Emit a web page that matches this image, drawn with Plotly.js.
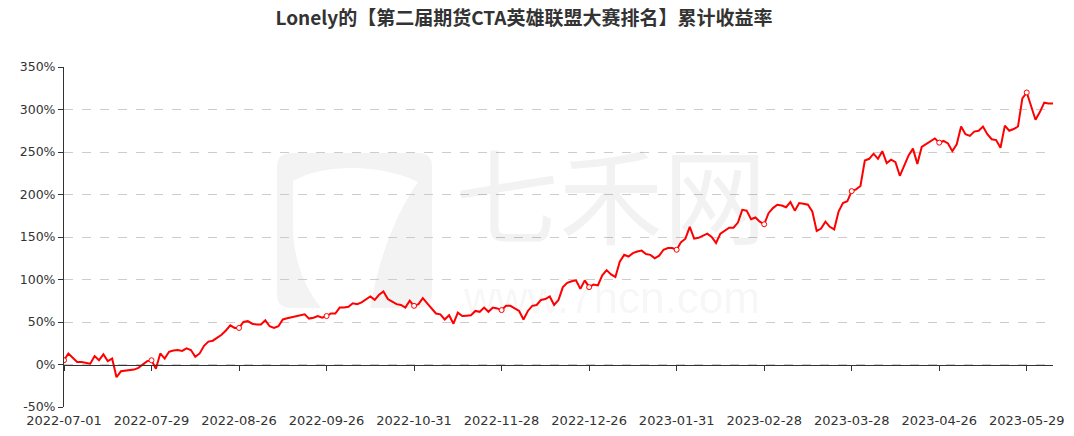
<!DOCTYPE html>
<html>
<head>
<meta charset="utf-8">
<script src="https://cdn.plot.ly/plotly-3.0.1.min.js"></script>
<style>html,body{margin:0;padding:0;background:#fff;}#chart{width:1074px;height:436px;}</style>
</head>
<body>
<div id="chart"></div>
<script>
const titleText = 'Lonely的【第二届期货CTA英雄联盟大赛排名】累计收益率';

const dates = [
'2022-07-01','2022-07-04','2022-07-05','2022-07-06','2022-07-07','2022-07-08','2022-07-11','2022-07-12','2022-07-13','2022-07-14','2022-07-15','2022-07-18','2022-07-19','2022-07-20','2022-07-21','2022-07-22','2022-07-25','2022-07-26','2022-07-27','2022-07-28','2022-07-29',
'2022-08-01','2022-08-02','2022-08-03','2022-08-04','2022-08-05','2022-08-08','2022-08-09','2022-08-10','2022-08-11','2022-08-12','2022-08-15','2022-08-16','2022-08-17','2022-08-18','2022-08-19','2022-08-22','2022-08-23','2022-08-24','2022-08-25','2022-08-26','2022-08-29','2022-08-30','2022-08-31',
'2022-09-01','2022-09-02','2022-09-05','2022-09-06','2022-09-07','2022-09-08','2022-09-09','2022-09-13','2022-09-14','2022-09-15','2022-09-16','2022-09-19','2022-09-20','2022-09-21','2022-09-22','2022-09-23','2022-09-26','2022-09-27','2022-09-28','2022-09-29','2022-09-30',
'2022-10-10','2022-10-11','2022-10-12','2022-10-13','2022-10-14','2022-10-17','2022-10-18','2022-10-19','2022-10-20','2022-10-21','2022-10-24','2022-10-25','2022-10-26','2022-10-27','2022-10-28','2022-10-31',
'2022-11-01','2022-11-02','2022-11-03','2022-11-04','2022-11-07','2022-11-08','2022-11-09','2022-11-10','2022-11-11','2022-11-14','2022-11-15','2022-11-16','2022-11-17','2022-11-18','2022-11-21','2022-11-22','2022-11-23','2022-11-24','2022-11-25','2022-11-28','2022-11-29','2022-11-30',
'2022-12-01','2022-12-02','2022-12-05','2022-12-06','2022-12-07','2022-12-08','2022-12-09','2022-12-12','2022-12-13','2022-12-14','2022-12-15','2022-12-16','2022-12-19','2022-12-20','2022-12-21','2022-12-22','2022-12-23','2022-12-26','2022-12-27','2022-12-28','2022-12-29','2022-12-30',
'2023-01-03','2023-01-04','2023-01-05','2023-01-06','2023-01-09','2023-01-10','2023-01-11','2023-01-12','2023-01-13','2023-01-16','2023-01-17','2023-01-18','2023-01-19','2023-01-20','2023-01-30','2023-01-31',
'2023-02-01','2023-02-02','2023-02-03','2023-02-06','2023-02-07','2023-02-08','2023-02-09','2023-02-10','2023-02-13','2023-02-14','2023-02-15','2023-02-16','2023-02-17','2023-02-20','2023-02-21','2023-02-22','2023-02-23','2023-02-24','2023-02-27','2023-02-28',
'2023-03-01','2023-03-02','2023-03-03','2023-03-06','2023-03-07','2023-03-08','2023-03-09','2023-03-10','2023-03-13','2023-03-14','2023-03-15','2023-03-16','2023-03-17','2023-03-20','2023-03-21','2023-03-22','2023-03-23','2023-03-24','2023-03-27','2023-03-28','2023-03-29','2023-03-30','2023-03-31',
'2023-04-03','2023-04-04','2023-04-06','2023-04-07','2023-04-10','2023-04-11','2023-04-12','2023-04-13','2023-04-14','2023-04-17','2023-04-18','2023-04-19','2023-04-20','2023-04-21','2023-04-24','2023-04-25','2023-04-26','2023-04-27','2023-04-28',
'2023-05-04','2023-05-05','2023-05-08','2023-05-09','2023-05-10','2023-05-11','2023-05-12','2023-05-15','2023-05-16','2023-05-17','2023-05-18','2023-05-19','2023-05-22','2023-05-23','2023-05-24','2023-05-25','2023-05-26','2023-05-29','2023-05-30','2023-05-31',
'2023-06-01','2023-06-02','2023-06-05','2023-06-06'
];

// cumulative return, %
const cumReturn = [
5,13,8,3,3,2,1,10,5,12,4,7,-15,-8,-7.5,-7,-6,-4,0,4,
5,-5,13,7,15,16.5,17,16,19,17,9,13,22,27,28,31,35,40,46,43,
43,50,51,48,47,47,52,45,43,45,53,54.5,55.5,57,58,59,54,55,57,55,
57,60,60,67,67,68,72,71,73,77,80,76,82,86,77,74,71,70,67,75,
69,71,78,72,66,60,59,53,58,48,61,57,57.5,58,63,62,67,62,67,66,
64,69,69,66,63,53,63,69,70,76,77,80,70,76,91,96,98,99,89,99,
91,94,93,105,111,106,103,121,129,127,131,133,134,130,129,125,128,135,137,137,
135,144,148,162,148,149,152,154,150,143,154,157,161,161,167,182,181,171,173,168,
165,178,184,188,187,185,191,181,190,189,188,180,157,160,168,162,159,180,190,192,
204,206,210,240,242,248,242,251,237,241,238,222,234,246,254,236,256,259,263,266,
261,263,260,251,259,280,271,269,274,275,280,271,265,264,255,281,275,277,280,313,
320,305,288,297,308,307,307
];

const tickStep = 20;
const tickDates = dates.filter((d, i) => i % tickStep === 0);
const tickValues = cumReturn.filter((v, i) => i % tickStep === 0);

const yTicks = [-50, 0, 50, 100, 150, 200, 250, 300, 350];
const yTickText = yTicks.map(v => v + '%');

const watermarkName = '七禾网';
const watermarkUrl = 'www.7hcn.com';

// plot area in pixels (for placing the background watermark)
const PL = 64, PR = 1053, PT = 67, PB = 407;
const px = x => ((x - PL) / (PR - PL)).toFixed(4);
const py = y => ((PB - y) / (PB - PT)).toFixed(4);
function pathOf(cmds) {
  return cmds.map(c => c[0] + ' ' + c.slice(1).reduce((a, v, i) => a + (i % 2 === 0 ? px(v) : ',' + py(v) + ' '), '')).join(' ') + ' Z';
}
const logoBox = pathOf([
  ['M', 277, 167], ['Q', 277, 153, 291, 153], ['L', 418, 153], ['Q', 432, 153, 432, 167],
  ['L', 432, 294], ['Q', 432, 308, 418, 308], ['L', 291, 308], ['Q', 277, 308, 277, 294]
]);
const logoSwoosh = pathOf([
  ['M', 293, 181], ['C', 325, 162, 385, 165, 418, 182], ['C', 395, 215, 378, 260, 370, 309],
  ['L', 322, 309], ['C', 302, 285, 293, 255, 293, 225]
]);

const traces = [
  {
    x: dates, y: cumReturn, type: 'scatter', mode: 'lines',
    line: {color: '#ff0000', width: 2},
    hoverinfo: 'x+y', showlegend: false
  },
  {
    x: tickDates, y: tickValues, type: 'scatter', mode: 'markers',
    marker: {symbol: 'circle', size: 5, color: '#ffffff', line: {color: '#ff0000', width: 1}},
    hoverinfo: 'skip', showlegend: false
  },
  {
    x: dates, y: cumReturn, xaxis: 'x2', type: 'scatter', mode: 'lines',
    line: {width: 0}, opacity: 0, hoverinfo: 'skip', showlegend: false
  }
];

const layout = {
  width: 1074, height: 436,
  margin: {l: PL, r: 1074 - PR, t: PT, b: 436 - PB},
  paper_bgcolor: '#ffffff', plot_bgcolor: '#ffffff',
  font: {family: '"Noto Sans CJK SC", "DejaVu Sans", sans-serif', color: '#333'},
  title: {
    text: '<b>' + titleText + '</b>',
    xref: 'container', x: 524 / 1074, xanchor: 'center', y: 0.957, yanchor: 'middle',
    font: {size: 19, color: '#333', family: '"Noto Sans CJK SC", sans-serif'}
  },
  xaxis: {
    type: 'category', range: [0, dates.length - 1],
    tickmode: 'array', tickvals: tickDates, ticktext: tickDates,
    showline: false, showgrid: false, zeroline: false, ticks: '',
    ticklabelstandoff: 4,
    tickfont: {size: 13, color: '#333', family: '"DejaVu Sans", sans-serif'},
    tickangle: 0, fixedrange: true
  },
  xaxis2: {
    type: 'category', overlaying: 'x', anchor: 'free', position: 0.125,
    range: [0, dates.length - 1],
    tickmode: 'array', tickvals: tickDates, showticklabels: false,
    showline: true, linecolor: '#333', linewidth: 1,
    ticks: 'outside', ticklen: 5, tickcolor: '#333', tickwidth: 1,
    showgrid: false, zeroline: false, fixedrange: true
  },
  yaxis: {
    range: [-50, 350], tickmode: 'array', tickvals: yTicks, ticktext: yTickText,
    showline: true, linecolor: '#333', linewidth: 1,
    ticks: 'outside', ticklen: 5, tickcolor: '#333',
    showgrid: true, gridcolor: '#cccccc', griddash: 'dash', gridwidth: 1,
    zeroline: false,
    tickfont: {size: 12.5, color: '#333', family: '"DejaVu Sans", sans-serif'},
    fixedrange: true
  },
  shapes: [
    {type: 'path', xref: 'paper', yref: 'paper', layer: 'below', path: logoBox,
     fillcolor: '#f3f3f3', line: {width: 0}},
    {type: 'path', xref: 'paper', yref: 'paper', layer: 'below', path: logoSwoosh,
     fillcolor: '#ffffff', line: {width: 0}}
  ],
  annotations: [
    {xref: 'paper', yref: 'paper', x: px(611), y: py(269),
     text: watermarkName, showarrow: false, xanchor: 'center', yanchor: 'bottom',
     font: {size: 104, color: 'rgba(0,0,0,0.05)', family: '"Noto Sans CJK SC", sans-serif'}},
    {xref: 'paper', yref: 'paper', x: px(611), y: py(271),
     text: watermarkUrl, showarrow: false, xanchor: 'center', yanchor: 'top',
     font: {size: 44, color: 'rgba(0,0,0,0.05)', family: '"Liberation Sans", sans-serif'}}
  ]
};

Plotly.newPlot('chart', traces, layout, {displayModeBar: false, staticPlot: true});
</script>
</body>
</html>
